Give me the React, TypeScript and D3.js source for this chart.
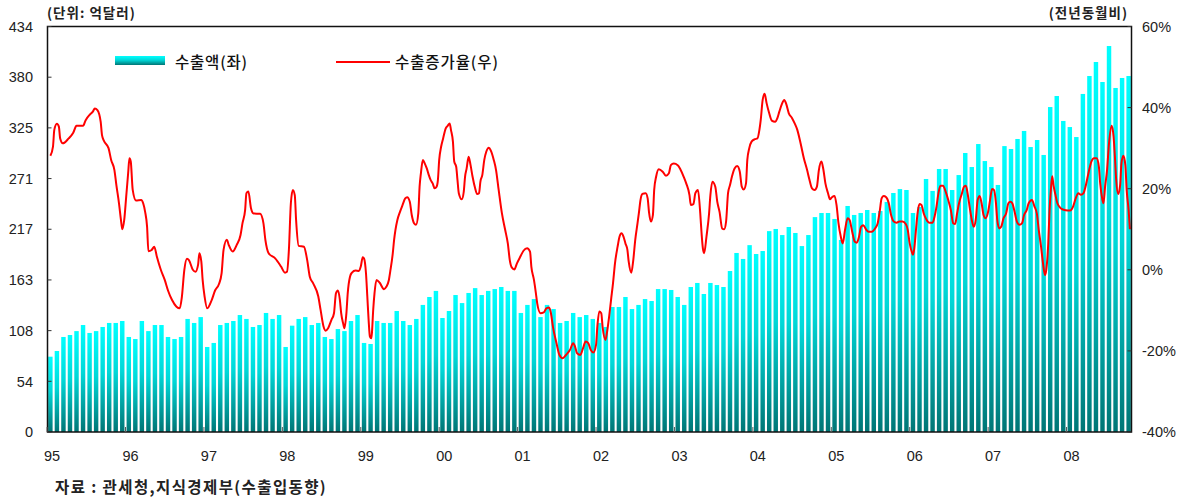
import React, { useEffect, useRef } from "react";
import * as d3 from "d3";

// monthly exports (억달러), Jan 1995 .. Oct 2008
const exports1995 = [80.6, 86.7, 101.7, 103.8, 108, 114.5, 106, 108, 112.4, 116.7, 116.7, 118.8];
const exports1996 = [101.7, 99.5, 118.8, 108, 114.5, 114.5, 101.7, 99.5, 101.7, 121, 116.7, 123];
const exports1997 = [91, 95.3, 114.5, 116.7, 118.8, 125.2, 121, 112.4, 114.5, 127.4, 121, 125.2];
const exports1998 = [91, 113.8, 121, 123, 114.5, 116.7, 101.7, 99.5, 110.2, 108, 118.8, 125.2];
const exports1999 = [95.3, 94.2, 118.8, 116.7, 116.7, 129.5, 118.8, 114.5, 121, 136, 144.5, 151];
const exports2000 = [122, 129.5, 146.6, 138, 148.8, 154, 146.6, 151, 153, 155.2, 151, 151];
const exports2001 = [127.4, 136, 142.3, 123, 136, 131.6, 116.7, 118.8, 127.4, 123, 125.2, 121];
const exports2002 = [116.7, 112.4, 133.8, 133.8, 144.5, 131.6, 136, 142.3, 140.2, 153, 153, 152];
const exports2003 = [144.5, 136, 155.2, 159.5, 147.7, 159.5, 157.3, 155.2, 172.3, 191.6, 185.2, 200];
const exports2004 = [190.5, 193.7, 215, 217.3, 210.8, 219.4, 213, 199, 210.8, 230, 234.4, 234.4];
const exports2005 = [228, 205.5, 241.9, 232.3, 234.4, 237.6, 234.4, 236.5, 246.2, 255.8, 260, 259];
const exports2006 = [234.4, 240.8, 270.8, 258, 281.5, 281.5, 259, 275, 298.6, 283.6, 308.2, 290];
const exports2007 = [283.6, 264.4, 306, 302.9, 313.6, 322.2, 305, 312.5, 296.5, 347.8, 359.6, 332.9];
const exports2008 = [326.4, 315.7, 361.8, 381, 396, 374.6, 413.1, 368.2, 378.9, 381];

const exportValues = [
  ...exports1995, ...exports1996, ...exports1997, ...exports1998, ...exports1999,
  ...exports2000, ...exports2001, ...exports2002, ...exports2003, ...exports2004,
  ...exports2005, ...exports2006, ...exports2007, ...exports2008,
];

// growth rate (%): [months since Jan 1995, value]
const growthPoints: [number, number][] = [
  [0, 28.1], [0.4, 30.4], [0.6, 34.5], [1.0, 36], [1.3, 35.3], [1.5, 32.4], [1.9, 31.2], [2.8, 32.4], [3.5, 33.8], [4.0, 35.5],
  [5.0, 35.5], [5.4, 36.9], [6.0, 38.2], [6.5, 39], [6.8, 39.8], [7.2, 39.4], [7.7, 36.5], [7.9, 33.2], [8.2, 31.8], [8.9, 30],
  [9.3, 27.1], [9.8, 24.6], [10.1, 20.9], [10.5, 16.4], [10.8, 12.3], [11.0, 10], [11.3, 12.3], [11.6, 18], [11.9, 23.8], [12.1, 27.5],
  [12.3, 26.7], [12.6, 19.7], [13.1, 17.1], [13.9, 17.2], [14.2, 16.4], [14.5, 14.3], [14.8, 10.6], [15.0, 4.6], [15.5, 4.9], [15.9, 5.7],
  [16.3, 3.2], [16.9, 0], [17.5, -2.5], [18.0, -5.1], [18.6, -7.4], [19.3, -9.1],
  [19.8, -9.5], [20.1, -7.0], [20.5, 0], [20.9, 2.7], [21.2, 2.4], [21.8, 0], [22.2, -0.5], [22.6, 1.2], [22.8, 4.1], [23.1, 2],
  [23.3, -2.5], [23.6, -6.6], [24.0, -9.5], [24.7, -7.4], [25.2, -5.1], [25.8, -3.5], [26.2, -0.9], [26.5, 4.9], [27.0, 7.4], [27.3, 6.1],
  [27.9, 4.5], [28.5, 6.1], [29.1, 8.6], [29.4, 11.5], [29.8, 14.7], [30.0, 18.9], [30.3, 19.3], [30.7, 15.2], [31.1, 13.9], [32.1, 13.8],
  [32.6, 11.5], [32.9, 7.4], [33.4, 4.1], [34.4, 2.8], [35.3, 0.8], [35.9, -0.7], [36.2, -0.5], [36.5, 4.9], [36.8, 16.4], [37.1, 19.7],
  [37.4, 18.4], [37.6, 12.3], [38.0, 5.9], [38.8, 5.7], [39.3, 2.4], [39.7, -1.7],
  [40.2, -3.3], [41.0, -6.6], [41.35, -9.9], [41.8, -14.0], [42.1, -15.0], [42.5, -14.4], [43.0, -12.4], [43.4, -10.7], [43.7, -5.8], [44.0, -5.1],
  [44.3, -7.4], [44.5, -10.7], [44.8, -13.2], [45.0, -14.4], [45.3, -10.7], [45.5, -5.8], [45.85, -1.7], [46.15, -0.7], [46.7, -0.2], [47.2, -0.3],
  [47.5, 0.8], [47.8, 3.1], [48.0, 2.8], [48.3, -0.9], [48.5, -6.6], [48.7, -12.4], [48.9, -16.5], [49.1, -16.9], [49.2, -15.7], [49.4, -9.9],
  [49.6, -5.8], [49.9, -2.5], [50.4, -3.2], [51.05, -4.8], [51.4, -4.2], [51.8, -2.5], [52.0, -0.5], [52.4, 4.1], [52.6, 7.4], [52.8, 9.8],
  [53.1, 12.3], [53.5, 14.3], [53.9, 16.0], [54.3, 17.6], [54.6, 17.9], [55.0, 16.8], [55.3, 13.5], [55.65, 11.5], [55.95, 11.1], [56.3, 13.9],
  [56.5, 20.5], [56.7, 23.8], [57.0, 27.1], [57.3, 26.2], [57.6, 25.0], [57.9, 23.4], [58.2, 22.1], [58.5, 21.3], [58.8, 20.1], [59.1, 20.5],
  [59.3, 22.1], [59.5, 27.1], [59.8, 30.4], [60.1, 32.4], [60.5, 34.9],
  [60.8, 35.5], [61.1, 36.1], [61.3, 34.5], [61.6, 31.6], [61.8, 26.7], [62.1, 25.4], [62.3, 22.1], [62.5, 18.9], [62.95, 17.4], [63.26, 19.3],
  [63.46, 23], [63.7, 25], [64.0, 27.9], [64.3, 25.8], [64.6, 23], [65.0, 20.1], [65.3, 18.7], [65.6, 18.9], [65.8, 21.7], [66.1, 23.4],
  [66.4, 27.1], [66.7, 29.1], [67.1, 30.1], [67.4, 29.4], [67.85, 27.1], [68.2, 24.6], [68.6, 19.7], [69.1, 13.9], [69.6, 9.8], [70.0, 6.5],
  [70.3, 2.4], [70.6, 0.6], [71.0, 0.1], [71.4, 1.6], [71.9, 3.2], [72.4, 4.7], [72.95, 5.3], [73.4, 4.5], [73.6, 0.8], [74.0, -2.5],
  [74.3, -5.8], [74.5, -8.3], [75.0, -10.7], [75.5, -10.5], [75.9, -9.5], [76.3, -9.3], [76.6, -10.7], [76.9, -14.0], [77.45, -18.1], [77.9, -21.0],
  [78.4, -21.8], [78.9, -21.0], [79.5, -19.8], [80.0, -18.1], [80.3, -19.0], [80.6, -20.6], [81.1, -21.0],
  [81.5, -19.4], [81.9, -17.7], [82.3, -18.1], [82.7, -19.8], [83.1, -20.4], [83.5, -18.5], [83.7, -14.0], [84.0, -10.3], [84.3, -10.7], [84.5, -14.0],
  [84.95, -17.3], [85.15, -15.7], [85.5, -11.6], [85.8, -7.4], [86.1, -3.3], [86.4, 1.6], [86.8, 5.7], [87.1, 8.2], [87.4, 9.0], [87.7, 8.2],
  [88.0, 6.5], [88.3, 4.9], [88.5, 2.0], [88.9, -0.7], [89.2, 2.4], [89.5, 7.4], [89.85, 11.5], [90.05, 13.9], [90.3, 17.2], [90.6, 18.7],
  [91.1, 18.9], [91.4, 17.6], [91.6, 14.3], [91.9, 11.9], [92.2, 13.5], [92.4, 19.7], [92.7, 23], [93.1, 24.8], [93.7, 24.2], [94.2, 23.2],
  [94.65, 23.8], [94.95, 25.8], [95.4, 26.2], [96.0, 25.8], [96.4, 24.8], [96.9, 23], [97.3, 21.3], [97.8, 18.4], [98.0, 16.0], [98.4, 16.2],
  [98.7, 18.9], [99.1, 19.7], [99.45, 13.9], [99.65, 9.0], [99.85, 5.3], [100.05, 4.1], [100.4, 8.2], [100.8, 13.9], [101.0, 18.4], [101.3, 21.7],
  [101.75, 20.5], [102.05, 16.8], [102.4, 14.3], [102.8, 10.2], [103.1, 10.0], [103.4, 11.9], [103.7, 18.9], [104.0, 20.9], [104.3, 23], [104.7, 25],
  [105.1, 25.6], [105.5, 24.2], [105.8, 20.5], [106.1, 19.8], [106.45, 21.3], [106.65, 27.1], [106.95, 30.0], [107.3, 31.6], [107.8, 32.2], [108.2, 32.4],
  [108.5, 34.5], [108.7, 36.9], [109.0, 41.9], [109.3, 43.4], [109.6, 41.1], [110.0, 38.6], [110.4, 36.8], [110.9, 36.5], [111.25, 37.4], [111.55, 39.0],
  [111.95, 40.9], [112.3, 41.9], [112.6, 40.9], [113.0, 38.6], [113.5, 37.4], [113.9, 36.1], [114.3, 34.5], [114.8, 31.2], [115.3, 27.5], [115.8, 24.6],
  [116.1, 22.6], [116.55, 20.1], [116.95, 19.7], [117.3, 20.5], [117.6, 24.6], [118.0, 26.7], [118.3, 24.6], [118.6, 21.3], [119.0, 18.9], [119.3, 17.4],
  [119.6, 17.9], [120.0, 18.2], [120.3, 16.0], [120.6, 11.5], [120.95, 8.2], [121.25, 6.5], [121.6, 9.8], [122.0, 12.7], [122.3, 12.3],
  [122.7, 9.4], [123.1, 6.9], [123.4, 6.7], [123.75, 8.2], [124.05, 10.6], [124.4, 11.0], [124.8, 10.0], [125.2, 9.4], [125.7, 9.4], [126.2, 10.2],
  [126.6, 11.5], [126.9, 14.3], [127.2, 17.6], [127.5, 18.2], [127.9, 17.9], [128.3, 16.4], [128.65, 13.5], [129.05, 11.9], [129.5, 11.6], [129.9, 11.9],
  [130.4, 11.9], [130.9, 11.3], [131.2, 9.8], [131.5, 6.5], [131.8, 4.5], [132.0, 3.7], [132.2, 5.3], [132.5, 10.6], [132.7, 13.9], [133.0, 16.2],
  [133.3, 16.0], [133.65, 13.9], [134.05, 12.4], [134.5, 11.6], [135.0, 11.6], [135.3, 13.1], [135.6, 15.6], [135.9, 18.9], [136.2, 20.7], [136.6, 20.7],
  [137.0, 19.3], [137.4, 17.2], [137.8, 14.7], [138.15, 11.5], [138.45, 11.3], [138.75, 13.9], [139.05, 16.4], [139.5, 18.9], [139.8, 20.5], [140.1, 20.7],
  [140.4, 18.4], [140.7, 15.2], [141.0, 12.3], [141.3, 10.6], [141.6, 12.3], [141.9, 17.2], [142.2, 18.2], [142.5, 16.4], [142.8, 13.5], [143.1, 12.7],
  [143.5, 14.3], [143.8, 17.2], [144.1, 19.9], [144.4, 19.7], [144.7, 16.4], [144.9, 12.3], [145.2, 10.2], [145.5, 10.6], [145.85, 12.7], [146.25, 13.9],
  [146.6, 16.4], [146.9, 16.8], [147.2, 16.4], [147.5, 14.7], [147.9, 11.9], [148.3, 11.1], [148.7, 11.5], [149.0, 13.5], [149.4, 14.7], [149.7, 16.4],
  [150.2, 17.2], [150.6, 15.6], [150.95, 13.9], [151.25, 9.8], [151.6, 5.7], [151.9, 1.6], [152.2, -1.3], [152.4, 0], [152.7, 6.5], [152.9, 14.7],
  [153.1, 19.7], [153.3, 23.1], [153.5, 20.9], [153.8, 18.5], [154.1, 16.4], [154.6, 15.2], [155.35, 14.7], [156.05, 14.6], [156.5, 15.6], [156.9, 17.6],
  [157.3, 18.9], [157.7, 18.5], [158.1, 18.9], [158.4, 20.5], [158.9, 24.2], [159.3, 26.7], [159.7, 27.5], [160.1, 27.5], [160.45, 25.4], [160.65, 21.3],
  [160.95, 17.6], [161.15, 16.4], [161.4, 20.5], [161.7, 24.6], [162.0, 31.2], [162.4, 35.5], [162.7, 32.8], [162.9, 27.9], [163.1, 22.1], [163.4, 18.7],
  [163.7, 20.9], [163.9, 26.2], [164.2, 28.1], [164.5, 25.8], [164.7, 19.7], [165.0, 14.7], [165.2, 10.0],
];

const yearLabels = ["95", "96", "97", "98", "99", "00", "01", "02", "03", "04", "05", "06", "07", "08"];
const leftTicks = [0, 54.25, 108.5, 162.75, 217, 271.25, 325.5, 379.75, 434];
const leftTickLabels = ["0", "54", "108", "163", "217", "271", "325", "380", "434"];
const rightTicks = [-40, -20, 0, 20, 40, 60];

const KOR = "'Noto Sans CJK KR', 'Noto Sans', sans-serif";
const NUM = "'Liberation Sans', Arial, sans-serif";

export default function App() {
  const ref = useRef<SVGSVGElement>(null);

  useEffect(() => {
    const svg = d3.select(ref.current);
    svg.selectAll("*").remove();

    const left = 47.5, right = 1131.5, top = 26.5, bottom = 432;

    // ==========================
    // Scales
    // ==========================
    const x = d3.scaleBand<number>()
      .domain(d3.range(exportValues.length))
      .range([left, right])
      .paddingInner(0.32)
      .paddingOuter(0.1);
    const step = x.step();
    const xt = d3.scaleLinear()
      .domain([0, exportValues.length - 1])
      .range([x(0)! + x.bandwidth() / 2, x(exportValues.length - 1)! + x.bandwidth() / 2]);

    const yL = d3.scaleLinear().domain([0, 434]).range([bottom, top]);
    const yR = d3.scaleLinear().domain([-40, 60]).range([bottom, top]);

    // ==========================
    // Gradient
    // ==========================
    const grad = svg.append("defs").append("linearGradient")
      .attr("id", "barGrad")
      .attr("x1", 0).attr("y1", 0).attr("x2", 0).attr("y2", 1);
    grad.append("stop").attr("offset", "0%").attr("stop-color", "#00FFFF");
    grad.append("stop").attr("offset", "45%").attr("stop-color", "#00D8D8");
    grad.append("stop").attr("offset", "100%").attr("stop-color", "#007575");

    // ==========================
    // Bars
    // ==========================
    svg.append("g")
      .selectAll("rect")
      .data(exportValues)
      .enter()
      .append("rect")
      .attr("x", (_, i) => x(i)!)
      .attr("y", d => yL(d))
      .attr("width", x.bandwidth())
      .attr("height", d => bottom - yL(d))
      .attr("fill", "url(#barGrad)");

    // ==========================
    // Line
    // ==========================
    const line = d3.line<[number, number]>()
      .x(d => xt(d[0]))
      .y(d => yR(d[1]))
      .curve(d3.curveMonotoneX);
    svg.append("path")
      .attr("d", line(growthPoints))
      .attr("fill", "none")
      .attr("stroke", "#FF0000")
      .attr("stroke-width", 2)
      .attr("stroke-linejoin", "round");

    // ==========================
    // Frame + ticks
    // ==========================
    svg.append("rect")
      .attr("x", left).attr("y", top)
      .attr("width", right - left).attr("height", bottom - top)
      .attr("fill", "none").attr("stroke", "#111").attr("stroke-width", 1.5);

    leftTicks.forEach((v, i) => {
      svg.append("line")
        .attr("x1", left).attr("x2", left + 4)
        .attr("y1", yL(v)).attr("y2", yL(v))
        .attr("stroke", "#333");
      svg.append("text")
        .attr("x", 33).attr("y", yL(v)).attr("dy", "0.36em")
        .attr("text-anchor", "end")
        .attr("font-family", NUM).attr("font-size", 14.5).attr("fill", "#222")
        .text(leftTickLabels[i]);
    });

    rightTicks.forEach(v => {
      svg.append("line")
        .attr("x1", right - 4).attr("x2", right)
        .attr("y1", yR(v)).attr("y2", yR(v))
        .attr("stroke", "#333");
      svg.append("text")
        .attr("x", 1142).attr("y", yR(v)).attr("dy", "0.36em")
        .attr("font-family", NUM).attr("font-size", 14.5).attr("fill", "#222")
        .text(`${v}%`);
    });

    yearLabels.forEach((lab, k) => {
      const tx = x(k * 12)! - step * 0.16;
      svg.append("line")
        .attr("x1", tx).attr("x2", tx)
        .attr("y1", bottom).attr("y2", bottom - 5)
        .attr("stroke", "#555");
      svg.append("text")
        .attr("x", tx + 5).attr("y", 461)
        .attr("text-anchor", "middle")
        .attr("font-family", NUM).attr("font-size", 14.5).attr("fill", "#222")
        .text(lab);
    });

    // ==========================
    // Titles + legend
    // ==========================
    svg.append("text")
      .attr("x", 47).attr("y", 18)
      .attr("font-family", KOR).attr("font-weight", "bold").attr("font-size", 13.5)
      .attr("letter-spacing", 1).attr("fill", "#222")
      .text("(단위: 억달러)");
    svg.append("text")
      .attr("x", 1128).attr("y", 18)
      .attr("text-anchor", "end")
      .attr("font-family", KOR).attr("font-weight", "bold").attr("font-size", 13.5)
      .attr("letter-spacing", 1).attr("fill", "#222")
      .text("(전년동월비)");

    svg.append("rect")
      .attr("x", 115).attr("y", 56).attr("width", 50).attr("height", 9)
      .attr("fill", "url(#barGrad)");
    svg.append("text")
      .attr("x", 175).attr("y", 68)
      .attr("font-family", KOR).attr("font-size", 15.5).attr("font-weight", 500)
      .attr("letter-spacing", 0.8).attr("fill", "#111")
      .text("수출액(좌)");

    svg.append("line")
      .attr("x1", 336).attr("x2", 390).attr("y1", 62).attr("y2", 62)
      .attr("stroke", "#FF0000").attr("stroke-width", 2);
    svg.append("text")
      .attr("x", 395).attr("y", 68)
      .attr("font-family", KOR).attr("font-size", 15.5).attr("font-weight", 500)
      .attr("letter-spacing", 0.9).attr("fill", "#111")
      .text("수출증가율(우)");

    svg.append("text")
      .attr("x", 55).attr("y", 493)
      .attr("font-family", KOR).attr("font-weight", "bold").attr("font-size", 15.5)
      .attr("letter-spacing", 1.4).attr("fill", "#222")
      .text("자료 : 관세청,지식경제부(수출입동향)");
  }, []);

  return (
    <svg
      ref={ref}
      width={1190}
      height={500}
      style={{ position: "absolute", left: 0, top: 0, background: "#fff" }}
    />
  );
}
